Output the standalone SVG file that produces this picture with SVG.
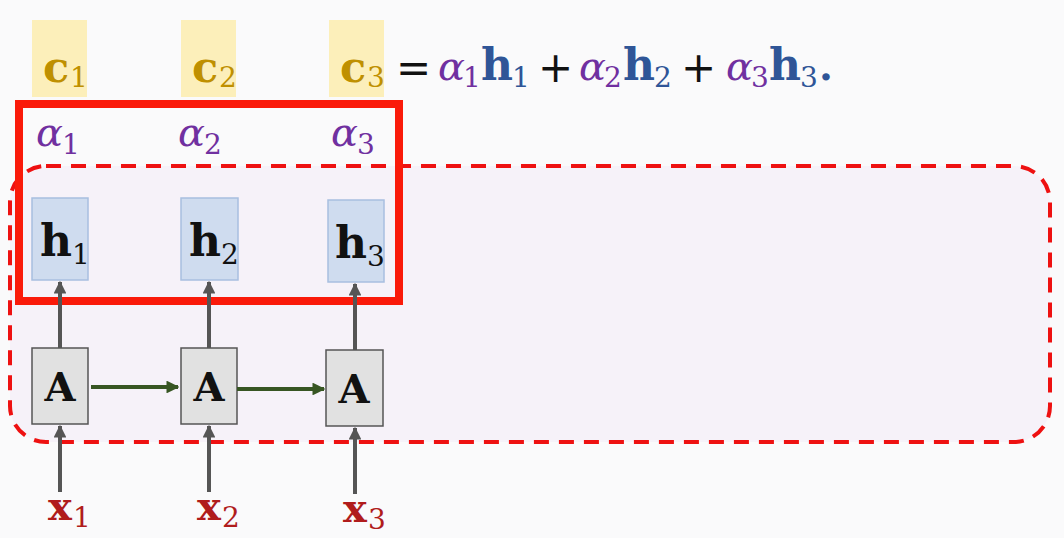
<svg xmlns="http://www.w3.org/2000/svg" width="1064" height="538" viewBox="0 0 1064 538">
<defs>
<style>
.cbox{fill:#fcefba;}
.hbox{fill:#cfdcef;stroke:#a8bfe0;stroke-width:1.5;}
.abox{fill:#e1e1e1;stroke:#555;stroke-width:1.5;}
.t{font-family:"DejaVu Serif","Liberation Serif",serif;font-weight:bold;}
.s{font-family:"DejaVu Serif","Liberation Serif",serif;font-weight:normal;font-size:28px;}
.al{fill:#7030a0;font-style:italic;font-family:"DejaVu Serif","Liberation Serif",serif;font-size:40px;}
.op{font-family:"DejaVu Sans","Liberation Sans",sans-serif;font-size:42px;fill:#111;}
.gray{stroke:#555;stroke-width:4;fill:none;}
.green{stroke:#375623;stroke-width:4;fill:none;}
</style>
<marker id="ag" viewBox="0 0 10 10" refX="9" refY="5" markerWidth="3.2" markerHeight="3.2" orient="auto" markerUnits="strokeWidth"><path d="M0,0 L10,5 L0,10 z" fill="#555"/></marker>
<marker id="agr" viewBox="0 0 10 10" refX="9" refY="5" markerWidth="3.2" markerHeight="3.2" orient="auto" markerUnits="strokeWidth"><path d="M0,0 L10,5 L0,10 z" fill="#375623"/></marker>
</defs>
<rect width="1064" height="538" fill="#fafafb"/>
<rect id="attention-region" x="10" y="166" width="1040" height="276" rx="36" fill="#f6f2f9" stroke="#ee1111" stroke-width="4" stroke-dasharray="15,10"/>

<g id="c1"><rect class="cbox" x="32" y="20" width="55" height="77"/><text class="t" x="43" y="82" font-size="43" fill="#bf9000">c</text><text class="s" x="70" y="87" fill="#bf9000">1</text></g>
<g id="c2"><rect class="cbox" x="181" y="20" width="55" height="77"/><text class="t" x="192" y="82" font-size="43" fill="#bf9000">c</text><text class="s" x="219" y="87" fill="#bf9000">2</text></g>
<g id="c3"><rect class="cbox" x="329" y="20" width="55" height="77"/><text class="t" x="340" y="82" font-size="43" fill="#bf9000">c</text><text class="s" x="367" y="87" fill="#bf9000">3</text></g>

<g id="equation">
<text class="op" x="396" y="82">=</text>
<text class="al" x="438" y="80">α</text><text class="s" x="463" y="87" fill="#7030a0">1</text>
<text class="t" x="481" y="80" font-size="44" fill="#2f5597">h</text><text class="s" x="512" y="87" fill="#2f5597">1</text>
<text class="op" x="538" y="82">+</text>
<text class="al" x="579" y="80">α</text><text class="s" x="604" y="87" fill="#7030a0">2</text>
<text class="t" x="623" y="80" font-size="44" fill="#2f5597">h</text><text class="s" x="654" y="87" fill="#2f5597">2</text>
<text class="op" x="681" y="82">+</text>
<text class="al" x="726" y="80">α</text><text class="s" x="751" y="87" fill="#7030a0">3</text>
<text class="t" x="769" y="80" font-size="44" fill="#2f5597">h</text><text class="s" x="800" y="87" fill="#2f5597">3</text>
<text class="t" x="819" y="80" font-size="40" fill="#2f5597">.</text>
</g>

<g id="alpha1"><text class="al" x="36" y="146">α</text><text class="s" x="62" y="154" fill="#7030a0">1</text></g>
<g id="alpha2"><text class="al" x="178" y="146">α</text><text class="s" x="204" y="154" fill="#7030a0">2</text></g>
<g id="alpha3"><text class="al" x="331" y="146">α</text><text class="s" x="357" y="154" fill="#7030a0">3</text></g>

<g id="h1"><rect class="hbox" x="32" y="198" width="56" height="82"/><text class="t" x="40" y="256" font-size="44" fill="#111">h</text><text class="s" x="72" y="264" fill="#111">1</text></g>
<g id="h2"><rect class="hbox" x="181" y="198" width="57" height="82"/><text class="t" x="189" y="256" font-size="44" fill="#111">h</text><text class="s" x="221" y="264" fill="#111">2</text></g>
<g id="h3"><rect class="hbox" x="328" y="200" width="56" height="82"/><text class="t" x="335" y="258" font-size="44" fill="#111">h</text><text class="s" x="367" y="266" fill="#111">3</text></g>

<g id="A1"><rect class="abox" x="32" y="348" width="56" height="76"/><text class="t" x="60" y="401" font-size="40" fill="#111" text-anchor="middle">A</text></g>
<g id="A2"><rect class="abox" x="181" y="348" width="56" height="76"/><text class="t" x="209" y="401" font-size="40" fill="#111" text-anchor="middle">A</text></g>
<g id="A3"><rect class="abox" x="326" y="350" width="57" height="76"/><text class="t" x="354" y="403" font-size="40" fill="#111" text-anchor="middle">A</text></g>

<g id="x1"><text class="t" x="48" y="520" font-size="40" fill="#b01c1c">x</text><text class="s" x="73" y="527" fill="#b01c1c">1</text></g>
<g id="x2"><text class="t" x="197" y="520" font-size="40" fill="#b01c1c">x</text><text class="s" x="222" y="527" fill="#b01c1c">2</text></g>
<g id="x3"><text class="t" x="343" y="522" font-size="40" fill="#b01c1c">x</text><text class="s" x="368" y="529" fill="#b01c1c">3</text></g>

<rect id="attention-box" x="19" y="104" width="380" height="197" fill="none" stroke="#fa1a0a" stroke-width="8"/>

<g id="connectors">
<line class="gray" x1="60" y1="348" x2="60" y2="282" marker-end="url(#ag)"/>
<line class="gray" x1="209" y1="348" x2="209" y2="282" marker-end="url(#ag)"/>
<line class="gray" x1="355" y1="350" x2="355" y2="284" marker-end="url(#ag)"/>
<line class="gray" x1="60" y1="492" x2="60" y2="426" marker-end="url(#ag)"/>
<line class="gray" x1="209" y1="492" x2="209" y2="426" marker-end="url(#ag)"/>
<line class="gray" x1="355" y1="494" x2="355" y2="428" marker-end="url(#ag)"/>
<line class="green" x1="91" y1="387" x2="178" y2="387" marker-end="url(#agr)"/>
<line class="green" x1="237" y1="389" x2="324" y2="389" marker-end="url(#agr)"/>
</g>
</svg>
